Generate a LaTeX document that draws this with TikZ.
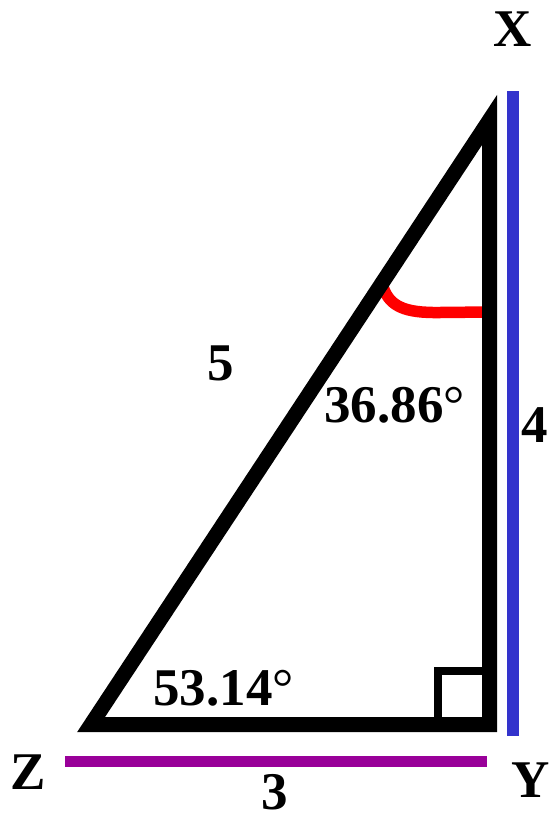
\documentclass[tikz,border=0pt]{standalone}
\usepackage{fontspec}
\setmainfont{Liberation Serif}
\usetikzlibrary{calc}

\definecolor{sideblue}{RGB}{51,51,204}
\definecolor{sidepurple}{RGB}{153,0,153}

\tikzset{
    lbl/.style={font=\bfseries\fontsize{53}{60}\selectfont, anchor=base, inner sep=0pt},
    edge/.style={line width=15pt, line join=miter},
}

\begin{document}
\begin{tikzpicture}[x=1pt,y=-1pt]
    \useasboundingbox (0,0) rectangle (550,819);

    \coordinate (X) at (489.5,120);
    \coordinate (Y) at (489.5,724.5);
    \coordinate (Z) at (91.1,724.5);

    % side marks
    \coordinate (b1) at (513,91);
    \coordinate (b2) at (513,736);
    \draw[sideblue, line width=12pt] (b1) -- (b2);

    \coordinate (p1) at (65,761.5);
    \coordinate (p2) at (487,761.5);
    \draw[sidepurple, line width=11.5pt] (p1) -- (p2);

    % angle at X
    \coordinate (a1) at ($(X)!0.27!(Z)$);
    \coordinate (a2) at (X |- 0,312);
    \draw[red, line width=11.5pt] (a1) .. controls (388,307) and (405,313) .. (440,312.5) -- (a2);

    \draw[edge] (X) -- (Y) -- (Z) -- cycle;

    % right angle
    \draw[line width=8pt] ($(Y)+(-51.5,0)$) |- ($(Y)+(0,-53.5)$);

    \node[lbl] (lX) at (513,46) {X};
    \node[lbl] (lY) at (531,797) {Y};
    \node[lbl] (lZ) at (28,789) {Z};

    \node[lbl] (l5) at (220.5,380) {5};
    \node[lbl] (l4) at (535,442) {4};
    \node[lbl] (l3) at (275,809) {3};

    \node[lbl] (angX) at (394.5,422) {36.86{\mdseries°}};
    \node[lbl] (angZ) at (223.5,705) {53.14{\mdseries°}};
\end{tikzpicture}
\end{document}
